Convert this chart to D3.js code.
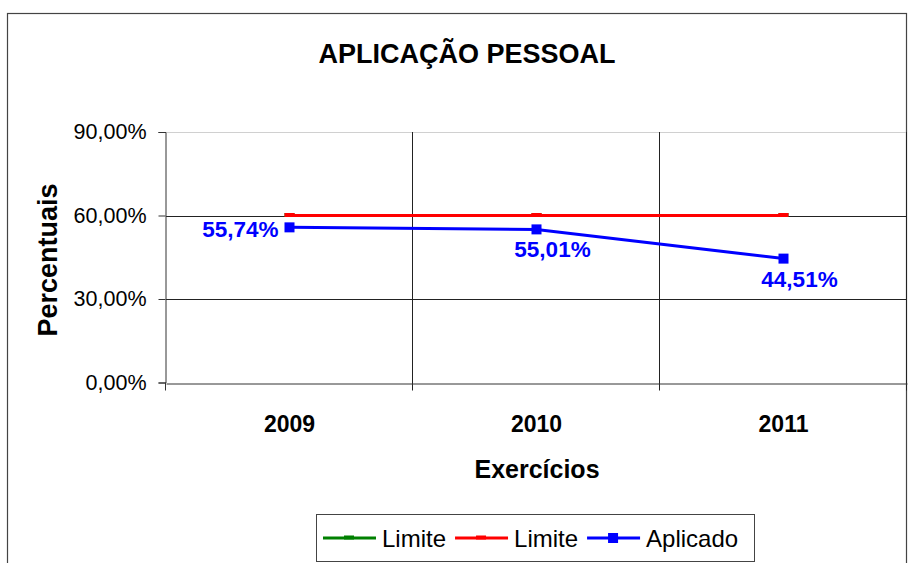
<!DOCTYPE html>
<html>
<head>
<meta charset="utf-8">
<script src="https://cdn.jsdelivr.net/npm/d3@7"></script>
<style>
  body { margin: 0; background: #fff; }
  text { font-family: "Liberation Sans", Arial, sans-serif; }
</style>
</head>
<body>
<script>
// chart data
const years = ["2009", "2010", "2011"];
const limiteVerde = [60, 60, 60];
const limiteVermelho = [60, 60, 60];
const aplicado = [55.74, 55.01, 44.51];
const yTicks = [0, 30, 60, 90];
const legendNames = ["Limite", "Limite", "Aplicado"];

const body = d3.select("body");

const svg = body.append("svg")
    .attr("width", 909)
    .attr("height", 563);

// outer chart border
svg.append("rect")
    .attr("x", 7.5).attr("y", 13.5)
    .attr("width", 899).attr("height", 570)
    .attr("fill", "none")
    .attr("stroke", "#444")
    .attr("stroke-width", 1.2);

const plotLeft = 166, plotRight = 907, plotTop = 132, plotBottom = 382.5;

const x = d3.scaleBand().domain(years).range([plotLeft, plotRight]);
const y = d3.scaleLinear().domain([0, 90]).range([plotBottom, plotTop]);
const cx = d => x(d) + x.bandwidth() / 2;

const fmt = v => d3.format(".2f")(v).replace(".", ",") + "%";

// horizontal gridlines
svg.selectAll(".hgrid")
    .data(yTicks.filter(t => t > 0))
    .join("line")
    .attr("class", "hgrid")
    .attr("x1", plotLeft).attr("x2", plotRight)
    .attr("y1", d => Math.round(y(d)) + 0.5)
    .attr("y2", d => Math.round(y(d)) + 0.5)
    .attr("stroke", d => d == 90 ? "#d0d0d0" : "#222")
    .attr("stroke-width", 1);

// vertical gridlines at category borders
svg.selectAll(".vgrid")
    .data(years)
    .join("line")
    .attr("class", "vgrid")
    .attr("x1", d => Math.round(x(d) + x.bandwidth()) - 0.5)
    .attr("x2", d => Math.round(x(d) + x.bandwidth()) - 0.5)
    .attr("y1", plotTop).attr("y2", plotBottom + 8)
    .attr("stroke", "#222");

// y axis
const yAxis = svg.append("g")
    .attr("transform", `translate(${plotLeft - 0.5},0)`)
    .call(d3.axisLeft(y).tickValues(yTicks).tickFormat(fmt).tickSize(7).tickPadding(12));
yAxis.select(".domain").attr("stroke", "#333");
yAxis.selectAll(".tick line").attr("stroke", "#333");
yAxis.selectAll("text")
    .attr("fill", "#000")
    .style("font-size", "21.5px")
    .style("font-family", "'Liberation Sans', Arial, sans-serif");

// x axis
const xAxis = svg.append("g")
    .attr("transform", `translate(0,${Math.round(plotBottom) + 0.5})`)
    .call(d3.axisBottom(x).tickSize(0).tickPadding(32));
xAxis.select(".domain").attr("stroke", "#333");
xAxis.selectAll("text")
    .attr("fill", "#000")
    .style("font-size", "23px")
    .style("font-weight", "bold")
    .style("font-family", "'Liberation Sans', Arial, sans-serif");
svg.append("line")
    .attr("x1", plotLeft - 0.5).attr("x2", plotLeft - 0.5)
    .attr("y1", plotBottom).attr("y2", plotBottom + 8)
    .attr("stroke", "#333");

// titles
svg.append("text")
    .attr("x", 467).attr("y", 63)
    .attr("text-anchor", "middle")
    .style("font-size", "27px").style("font-weight", "bold")
    .text("APLICAÇÃO PESSOAL");

svg.append("text")
    .attr("x", 537).attr("y", 478)
    .attr("text-anchor", "middle")
    .style("font-size", "25px").style("font-weight", "bold")
    .text("Exercícios");

svg.append("text")
    .attr("transform", "translate(57,260) rotate(-90)")
    .attr("text-anchor", "middle")
    .style("font-size", "27px").style("font-weight", "bold")
    .text("Percentuais");

// series lines
const line = d3.line().x((d, i) => cx(years[i])).y(d => y(d));

const series = [
    { values: limiteVerde, color: "#008000", marker: "dash" },
    { values: limiteVermelho, color: "#ff0000", marker: "dash" },
    { values: aplicado, color: "#0000ff", marker: "square" }
];

series.forEach(s => {
    svg.append("path")
        .datum(s.values)
        .attr("d", line)
        .attr("fill", "none")
        .attr("stroke", s.color)
        .attr("stroke-width", 3);
    if (s.marker == "dash") {
        svg.selectAll(null)
            .data(s.values)
            .join("rect")
            .attr("x", (d, i) => cx(years[i]) - 5)
            .attr("y", d => y(d) - 2.5)
            .attr("width", 10).attr("height", 4)
            .attr("fill", s.color);
    } else {
        svg.selectAll(null)
            .data(s.values)
            .join("rect")
            .attr("x", (d, i) => cx(years[i]) - 5)
            .attr("y", d => y(d) - 5)
            .attr("width", 10).attr("height", 10)
            .attr("fill", s.color);
    }
});

// data labels for Aplicado
svg.selectAll(".data-label")
    .data(aplicado)
    .join("text")
    .attr("class", "data-label")
    .attr("x", (d, i) => i == 0 ? cx(years[i]) - 11 : cx(years[i]) + 16)
    .attr("y", (d, i) => i == 0 ? y(d) + 10 : y(d) + 28)
    .attr("text-anchor", (d, i) => i == 0 ? "end" : "middle")
    .attr("fill", "#0000ff")
    .style("font-size", "22.5px").style("font-weight", "bold")
    .text(d => fmt(d));

// legend
const legend = svg.append("g");
legend.append("rect")
    .attr("x", 316.5).attr("y", 514.5)
    .attr("width", 438).attr("height", 47)
    .attr("fill", "#fff")
    .attr("stroke", "#444");

let lx = 323;
series.forEach((s, i) => {
    legend.append("line")
        .attr("x1", lx).attr("x2", lx + 53)
        .attr("y1", 538).attr("y2", 538)
        .attr("stroke", s.color).attr("stroke-width", 3);
    if (s.marker == "dash") {
        legend.append("rect")
            .attr("x", lx + 21).attr("y", 535.5)
            .attr("width", 10).attr("height", 4)
            .attr("fill", s.color);
    } else {
        legend.append("rect")
            .attr("x", lx + 21).attr("y", 533)
            .attr("width", 10).attr("height", 10)
            .attr("fill", s.color);
    }
    const t = legend.append("text")
        .attr("x", lx + 59).attr("y", 547)
        .style("font-size", "24px")
        .text(legendNames[i]);
    lx = lx + 59 + t.node().getComputedTextLength() + 9;
});
</script>
</body>
</html>
